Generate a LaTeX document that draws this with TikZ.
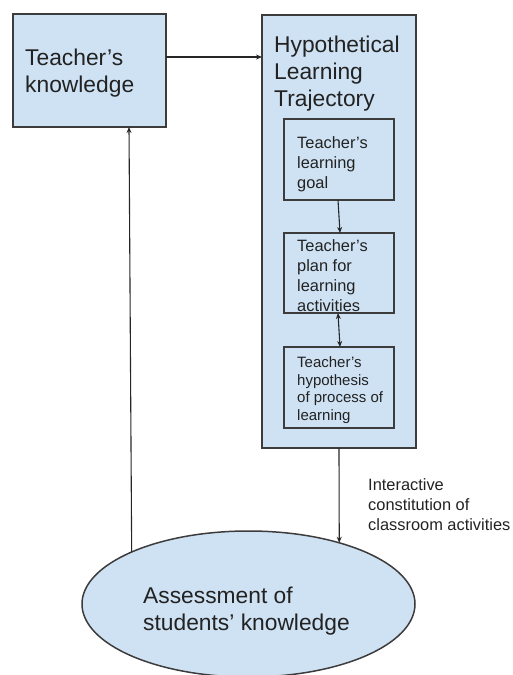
\documentclass[tikz,border=0pt]{standalone}
\usepackage{fontspec}
\setmainfont{Liberation Sans}
\usetikzlibrary{arrows.meta,shapes.geometric}
\definecolor{boxfill}{HTML}{CFE2F3}
\definecolor{boxline}{HTML}{3C3C3C}
\definecolor{ink}{HTML}{222222}
\begin{document}
\begin{tikzpicture}[x=1pt,y=-1pt,
  box/.style={draw=boxline,fill=boxfill,line width=1.3pt,inner sep=0pt,outer sep=0pt},
  bigtext/.style={anchor=base west,inner sep=0pt,align=left,text=ink,
    font=\fontsize{22.8}{27}\selectfont},
  smalltext/.style={anchor=base west,inner sep=0pt,align=left,text=ink,
    font=\fontsize{16.4}{20}\selectfont},
  tinytext/.style={anchor=base west,inner sep=0pt,align=left,text=ink,
    font=\fontsize{15}{17.5}\selectfont},
  arr/.style={draw=black!85,line width=1.1pt,-{Stealth[length=6pt,width=5pt]}},
  darr/.style={draw=black!85,line width=1.1pt,{Stealth[length=6pt,width=5pt]}-{Stealth[length=6pt,width=5pt]}}]
\useasboundingbox (0,0) rectangle (512,675);

% boxes
\node[box,minimum width=153pt,minimum height=113pt] (tk) at (89.5,70.5) {};
\node[box,minimum width=154pt,minimum height=433pt] (hlt) at (339,231.5) {};
\node[box,minimum width=110pt,minimum height=81pt] (goal) at (339,159.5) {};
\node[box,minimum width=110pt,minimum height=80pt] (plan) at (339,273) {};
\node[box,minimum width=110pt,minimum height=81pt] (hyp) at (339,387.5) {};
\node[draw=boxline,fill=boxfill,line width=1.5pt,ellipse,inner sep=0pt,outer sep=0pt,
  minimum width=333pt,minimum height=146pt] (asm) at (248.5,604) {};

% texts (positioned by the baseline of their last line)
\node[bigtext] (tkt) at (25,92) {Teacher’s\\knowledge};
\node[bigtext] (hltt) at (274,106) {Hypothetical\\Learning\\Trajectory};
\node[smalltext] (goalt) at (297,188) {Teacher’s\\learning\\goal};
\node[smalltext] (plant) at (297,311) {Teacher’s\\plan for\\learning\\activities};
\node[tinytext] (hypt) at (297,420) {Teacher’s\\hypothesis\\of process of\\learning};
\node[bigtext] (asmt) at (143,630) {Assessment of\\students’ knowledge};
\node[smalltext] (lbl) at (368,530) {Interactive\\constitution of\\classroom activities};

% connectors
\draw[arr] ([yshift=13.5pt]tk.east) -- ([yshift=13.5pt]tk.east -| hlt.west);
\draw[arr] ([xshift=-1pt]goal.south) -- ([xshift=1pt]plan.north);
\draw[darr] ([xshift=-1pt]plan.south) -- ([xshift=1pt]hyp.north);
\draw[arr] (hlt.south) -- (asm.34.5);
\draw[arr] (asm.156) -- ([xshift=39.5pt]tk.south);
\end{tikzpicture}
\end{document}
